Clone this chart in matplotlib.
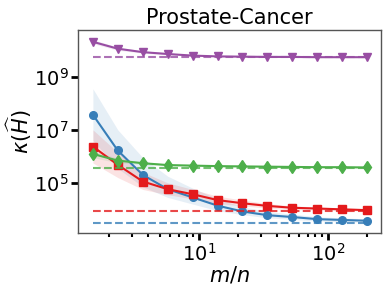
import numpy as np
import matplotlib.pyplot as plt
from matplotlib.ticker import LogLocator, NullFormatter

# m/n ratios
ratio = [1.5, 2.34, 3.66, 5.71, 8.91, 13.9, 21.7, 33.9, 52.9, 82.6, 128.9, 200]

# log10 of kappa(H_hat), per method
purple = [10.32, 10.06, 9.93, 9.86, 9.80, 9.77, 9.76, 9.75, 9.75, 9.74, 9.74, 9.74]
purple_lo = [10.25, 10.00, 9.89, 9.83, 9.78, 9.76, 9.75, 9.74, 9.74, 9.73, 9.73, 9.73]
purple_hi = [10.40, 10.12, 9.98, 9.90, 9.83, 9.79, 9.77, 9.76, 9.76, 9.75, 9.75, 9.75]
purple_ref = 9.73

blue = [7.57, 6.22, 5.30, 4.76, 4.45, 4.14, 3.92, 3.78, 3.71, 3.63, 3.60, 3.57]
blue_lo = [6.60, 5.55, 4.85, 4.45, 4.20, 3.95, 3.80, 3.68, 3.62, 3.56, 3.53, 3.51]
blue_hi = [8.55, 7.00, 5.95, 5.25, 4.80, 4.40, 4.10, 3.92, 3.82, 3.72, 3.68, 3.64]
blue_ref = 3.49

red = [6.37, 5.68, 5.05, 4.76, 4.57, 4.35, 4.23, 4.13, 4.06, 4.03, 4.00, 3.97]
red_lo = [5.75, 5.20, 4.75, 4.55, 4.40, 4.22, 4.13, 4.05, 3.99, 3.97, 3.95, 3.93]
red_hi = [7.00, 6.15, 5.40, 5.00, 4.75, 4.50, 4.35, 4.22, 4.13, 4.09, 4.05, 4.02]
red_ref = 3.92

green = [6.09, 5.84, 5.74, 5.67, 5.65, 5.63, 5.62, 5.61, 5.60, 5.59, 5.59, 5.58]
green_lo = [5.95, 5.76, 5.69, 5.63, 5.62, 5.60, 5.59, 5.58, 5.58, 5.57, 5.57, 5.56]
green_hi = [6.22, 5.92, 5.79, 5.71, 5.68, 5.66, 5.65, 5.64, 5.62, 5.61, 5.61, 5.60]
green_ref = 5.55

series = [
    (purple, purple_lo, purple_hi, purple_ref, '#984ea3', 'v', 6),
    (blue, blue_lo, blue_hi, blue_ref, '#377eb8', 'o', 5.5),
    (red, red_lo, red_hi, red_ref, '#e41a1c', 's', 5.5),
    (green, green_lo, green_hi, green_ref, '#4daf4a', 'd', 6),
]

fig = plt.figure(figsize=(3.9, 2.93), dpi=100)
ax = fig.add_axes([0.2, 0.205, 0.777, 0.693])

x = np.array(ratio)
for vals, lo, hi, ref, col, mk, ms in series:
    ax.fill_between(x, 10 ** np.array(lo), 10 ** np.array(hi), color=col, alpha=0.12, lw=0)
    ax.plot(x, 10 ** np.array(vals), color=col, marker=mk, ms=ms, lw=1.5)
    ax.plot([x[0], x[-1]], [10 ** ref, 10 ** ref], color=col, ls='--', lw=1.5, alpha=0.8)

ax.set_xscale('log')
ax.set_yscale('log')
ax.set_xlim(1.15, 258)
ax.set_ylim(10 ** 3.11, 10 ** 10.77)
ax.set_yticks([1e5, 1e7, 1e9])
ax.yaxis.set_minor_locator(plt.NullLocator())
ax.xaxis.set_minor_locator(LogLocator(base=10, subs=np.arange(2, 10)))
ax.xaxis.set_minor_formatter(NullFormatter())

ax.tick_params(axis='both', which='major', labelsize=14, length=5, width=2, direction='out', pad=2)
ax.tick_params(axis='x', which='minor', length=3, width=1.5)
for s in ax.spines.values():
    s.set_color('#555555')
    s.set_linewidth(1.0)

ax.set_title('Prostate-Cancer', fontsize=15, pad=4)
ax.set_xlabel('$m/n$', fontsize=15, labelpad=0)
ax.set_ylabel(r'$\kappa(\widehat{H})$', fontsize=15, labelpad=0)

fig.savefig('out.png', dpi=100)
